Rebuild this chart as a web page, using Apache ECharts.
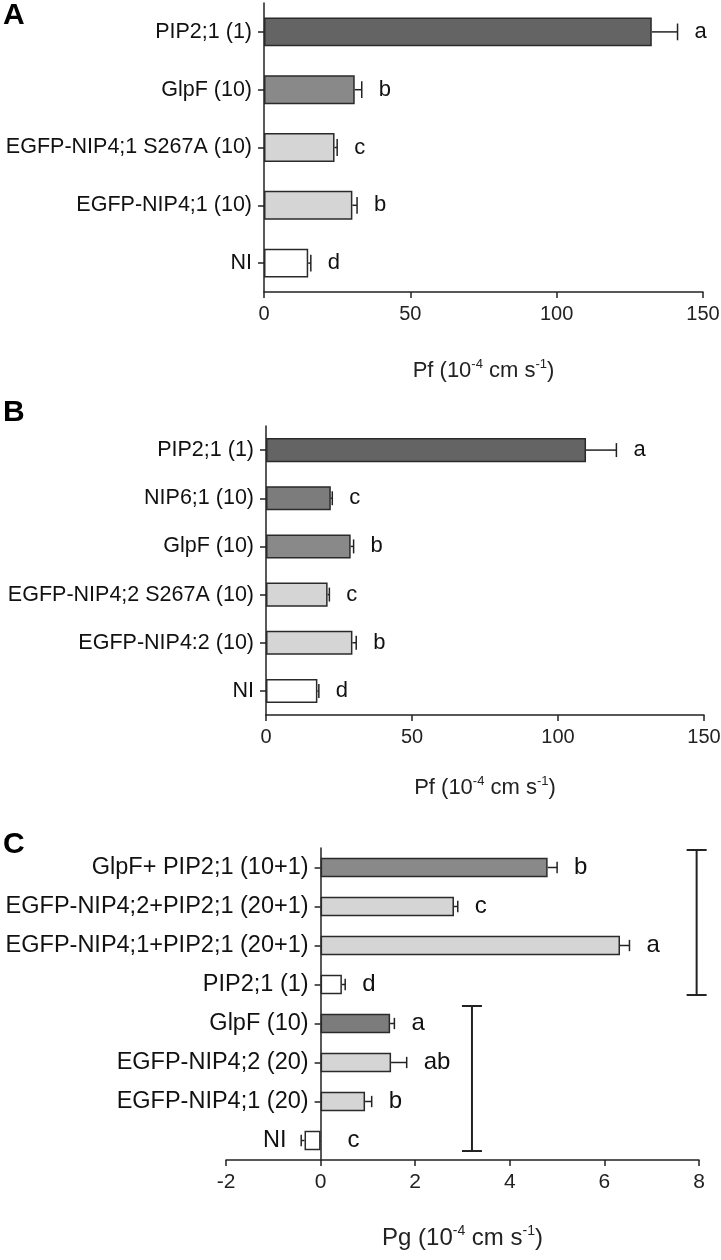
<!DOCTYPE html>
<html>
<head>
<meta charset="utf-8">
<script src="https://cdn.jsdelivr.net/npm/echarts@6/dist/echarts.min.js"></script>
<style>
  html, body { margin: 0; padding: 0; background: #fff; }
  #chart { width: 721px; height: 1260px; }
</style>
</head>
<body>
<div id="chart"></div>
<script>
// panel A - Pf
const categoriesA = ['PIP2;1 (1)', 'GlpF (10)', 'EGFP-NIP4;1 S267A (10)', 'EGFP-NIP4;1 (10)', 'NI'];
const valuesA = [132.5, 31.0, 24.1, 30.2, 15.1];
const errorsA = [8.8, 2.4, 0.9, 1.6, 0.9];
const lettersA = ['a', 'b', 'c', 'b', 'd'];

// panel B - Pf
const categoriesB = ['PIP2;1 (1)', 'NIP6;1 (10)', 'GlpF (10)', 'EGFP-NIP4;2 S267A (10)', 'EGFP-NIP4:2 (10)', 'NI'];
const valuesB = [109.6, 22.2, 29.0, 21.1, 29.6, 17.6];
const errorsB = [10.4, 0.5, 1.0, 0.6, 1.3, 0.5];
const lettersB = ['a', 'c', 'b', 'c', 'b', 'd'];

// panel C - Pg
const categoriesC = ['GlpF+ PIP2;1 (10+1)', 'EGFP-NIP4;2+PIP2;1 (20+1)', 'EGFP-NIP4;1+PIP2;1 (20+1)', 'PIP2;1 (1)',
  'GlpF (10)', 'EGFP-NIP4;2 (20)', 'EGFP-NIP4;1 (20)', 'NI'];
const valuesC = [4.80, 2.82, 6.33, 0.45, 1.47, 1.49, 0.94, -0.34];
const errorsC = [0.20, 0.08, 0.20, 0.07, 0.09, 0.33, 0.14, 0.07];
const lettersC = ['b', 'c', 'a', 'd', 'a', 'ab', 'b', 'c'];
// brackets: x position, first and last category of the group
const bracketsC = [[7.95, 0, 3], [3.2, 4, 7]];

// bar fills
const DARK = '#646464', MID = '#898989', MID2 = '#7c7c7c', LIGHT = '#d5d5d5', WHITE = '#ffffff';
const fillA = [DARK, MID, LIGHT, LIGHT, WHITE];
const fillB = [DARK, MID2, MID, LIGHT, LIGHT, WHITE];
const fillC = [MID, LIGHT, LIGHT, WHITE, MID2, LIGHT, LIGHT, WHITE];

const FONT = '"Liberation Sans", Arial, sans-serif';
const INK = '#222';

// grid C: x from -2 to 8, y axis sits on x = 0
const gridC = { left: 226, width: 473, top: 848, height: 312 };
const zeroShiftC = gridC.width * 2 / 10;

function axisName(sym) {
  return '{n|' + sym + ' (10}{s|-4}{n| cm s}{s|-1}{n|)}';
}
function nameRich(size) {
  return {
    n: { fontSize: size, fontFamily: FONT, color: INK },
    s: { fontSize: Math.round(size * 0.6), fontFamily: FONT, color: INK, padding: [0, 0, Math.round(size * 0.6), 0] }
  };
}

function xAxisFor(gi, max, min, interval, sym, labelSize, nameSize, gap) {
  return {
    gridIndex: gi, type: 'value', min: min, max: max, interval: interval,
    splitLine: { show: false },
    axisLine: { show: true, onZero: false, lineStyle: { color: INK, width: 1.5 } },
    axisTick: { show: true, length: 6, lineStyle: { color: INK, width: 1.5 } },
    axisLabel: { fontSize: labelSize, fontFamily: FONT, color: INK, margin: 12 },
    name: axisName(sym), nameLocation: 'middle', nameGap: gap,
    nameTextStyle: { rich: nameRich(nameSize) }
  };
}
// labels of negative bars are pushed left so they clear the bar
function yAxisFor(gi, cats, vals, labelSize, margin, offset) {
  return {
    gridIndex: gi, type: 'category', inverse: true, offset: offset,
    data: cats.map((c, i) => vals[i] < 0 ? { value: c, textStyle: { padding: [0, 22, 0, 0] } } : c),
    axisLine: { show: true, onZero: false, lineStyle: { color: INK, width: 1.5 } },
    axisTick: { show: true, alignWithLabel: true, length: 6, lineStyle: { color: INK, width: 1.5 } },
    axisLabel: { fontSize: labelSize, fontFamily: FONT, color: '#111', margin: margin }
  };
}

function barSeries(gi, vals, fills) {
  return {
    type: 'bar', xAxisIndex: gi, yAxisIndex: gi, barWidth: '50%',
    data: vals.map((v, i) => ({ value: v, itemStyle: { color: fills[i] } })),
    itemStyle: { borderColor: '#2a2a2a', borderWidth: 1.5 },
    silent: true, animation: false
  };
}

function errSeries(gi, vals, errs, letters, letterSize, gap) {
  return {
    type: 'custom', xAxisIndex: gi, yAxisIndex: gi, clip: false, silent: true, animation: false,
    data: vals.map((v, i) => [v, i, errs[i]]),
    encode: { x: 0, y: 1 },
    z: 5,
    renderItem: function (params, api) {
      const v = api.value(0), idx = api.value(1), e = api.value(2);
      const end = v >= 0 ? v + e : v - e;
      const p0 = api.coord([v, idx]);
      const p1 = api.coord([end, idx]);
      const cap = api.size([0, 1])[1] * 0.5 * 0.58;
      const lx = api.coord([Math.max(end, 0), idx])[0] + (v < 0 ? gap + 10 : gap);
      const st = { stroke: INK, lineWidth: 1.5 };
      return {
        type: 'group',
        children: [
          { type: 'line', shape: { x1: p0[0], y1: p0[1], x2: p1[0], y2: p1[1] }, style: st },
          { type: 'line', shape: { x1: p1[0], y1: p1[1] - cap / 2, x2: p1[0], y2: p1[1] + cap / 2 }, style: st },
          { type: 'text', x: lx, y: p0[1], style: {
              text: letters[params.dataIndex], fill: '#111', fontSize: letterSize, fontFamily: FONT,
              align: 'left', verticalAlign: 'middle' } }
        ]
      };
    }
  };
}

const bracketSeries = {
  type: 'custom', xAxisIndex: 2, yAxisIndex: 2, clip: false, silent: true, animation: false,
  data: bracketsC, encode: { x: 0, y: 1 },
  renderItem: function (params, api) {
    const x = api.value(0), a = api.value(1), b = api.value(2);
    const band = api.size([0, 1])[1];
    const pa = api.coord([x, a]), pb = api.coord([x, b]);
    const y1 = pa[1] - band / 2 + 2, y2 = pb[1] + band * 0.27;
    const w = 10;
    const st = { stroke: INK, lineWidth: 2 };
    return {
      type: 'group',
      children: [
        { type: 'line', shape: { x1: pa[0], y1: y1, x2: pa[0], y2: y2 }, style: st },
        { type: 'line', shape: { x1: pa[0] - w, y1: y1, x2: pa[0] + w, y2: y1 }, style: st },
        { type: 'line', shape: { x1: pa[0] - w, y1: y2, x2: pa[0] + w, y2: y2 }, style: st }
      ]
    };
  }
};

const chart = echarts.init(document.getElementById('chart'), null, { renderer: 'canvas' });
chart.setOption({
  backgroundColor: '#fff',
  animation: false,
  grid: [
    { left: 264, width: 439, top: 3, height: 289, outerBoundsMode: 'none', containLabel: false },
    { left: 266, width: 438, top: 426, height: 289, outerBoundsMode: 'none', containLabel: false },
    Object.assign({ outerBoundsMode: 'none', containLabel: false }, gridC)
  ],
  xAxis: [
    xAxisFor(0, 150, 0, 50, 'Pf', 20, 22, 66),
    xAxisFor(1, 150, 0, 50, 'Pf', 20, 22, 60),
    xAxisFor(2, 8, -2, 2, 'Pg', 21, 24, 64)
  ],
  yAxis: [
    yAxisFor(0, categoriesA, valuesA, 21.5, 12, 0),
    yAxisFor(1, categoriesB, valuesB, 21.5, 12, 0),
    yAxisFor(2, categoriesC, valuesC, 23.5, 12, -zeroShiftC)
  ],
  graphic: [
    { type: 'text', left: 3, top: 1, style: { text: 'A', fontSize: 30, fontWeight: 'bold', fontFamily: FONT, fill: '#000' } },
    { type: 'text', left: 3, top: 398, style: { text: 'B', fontSize: 30, fontWeight: 'bold', fontFamily: FONT, fill: '#000' } },
    { type: 'text', left: 3, top: 830, style: { text: 'C', fontSize: 30, fontWeight: 'bold', fontFamily: FONT, fill: '#000' } }
  ],
  series: [
    barSeries(0, valuesA, fillA),
    errSeries(0, valuesA, errorsA, lettersA, 22, 17),
    barSeries(1, valuesB, fillB),
    errSeries(1, valuesB, errorsB, lettersB, 22, 17),
    barSeries(2, valuesC, fillC),
    errSeries(2, valuesC, errorsC, lettersC, 24, 17),
    bracketSeries
  ]
});
</script>
</body>
</html>
